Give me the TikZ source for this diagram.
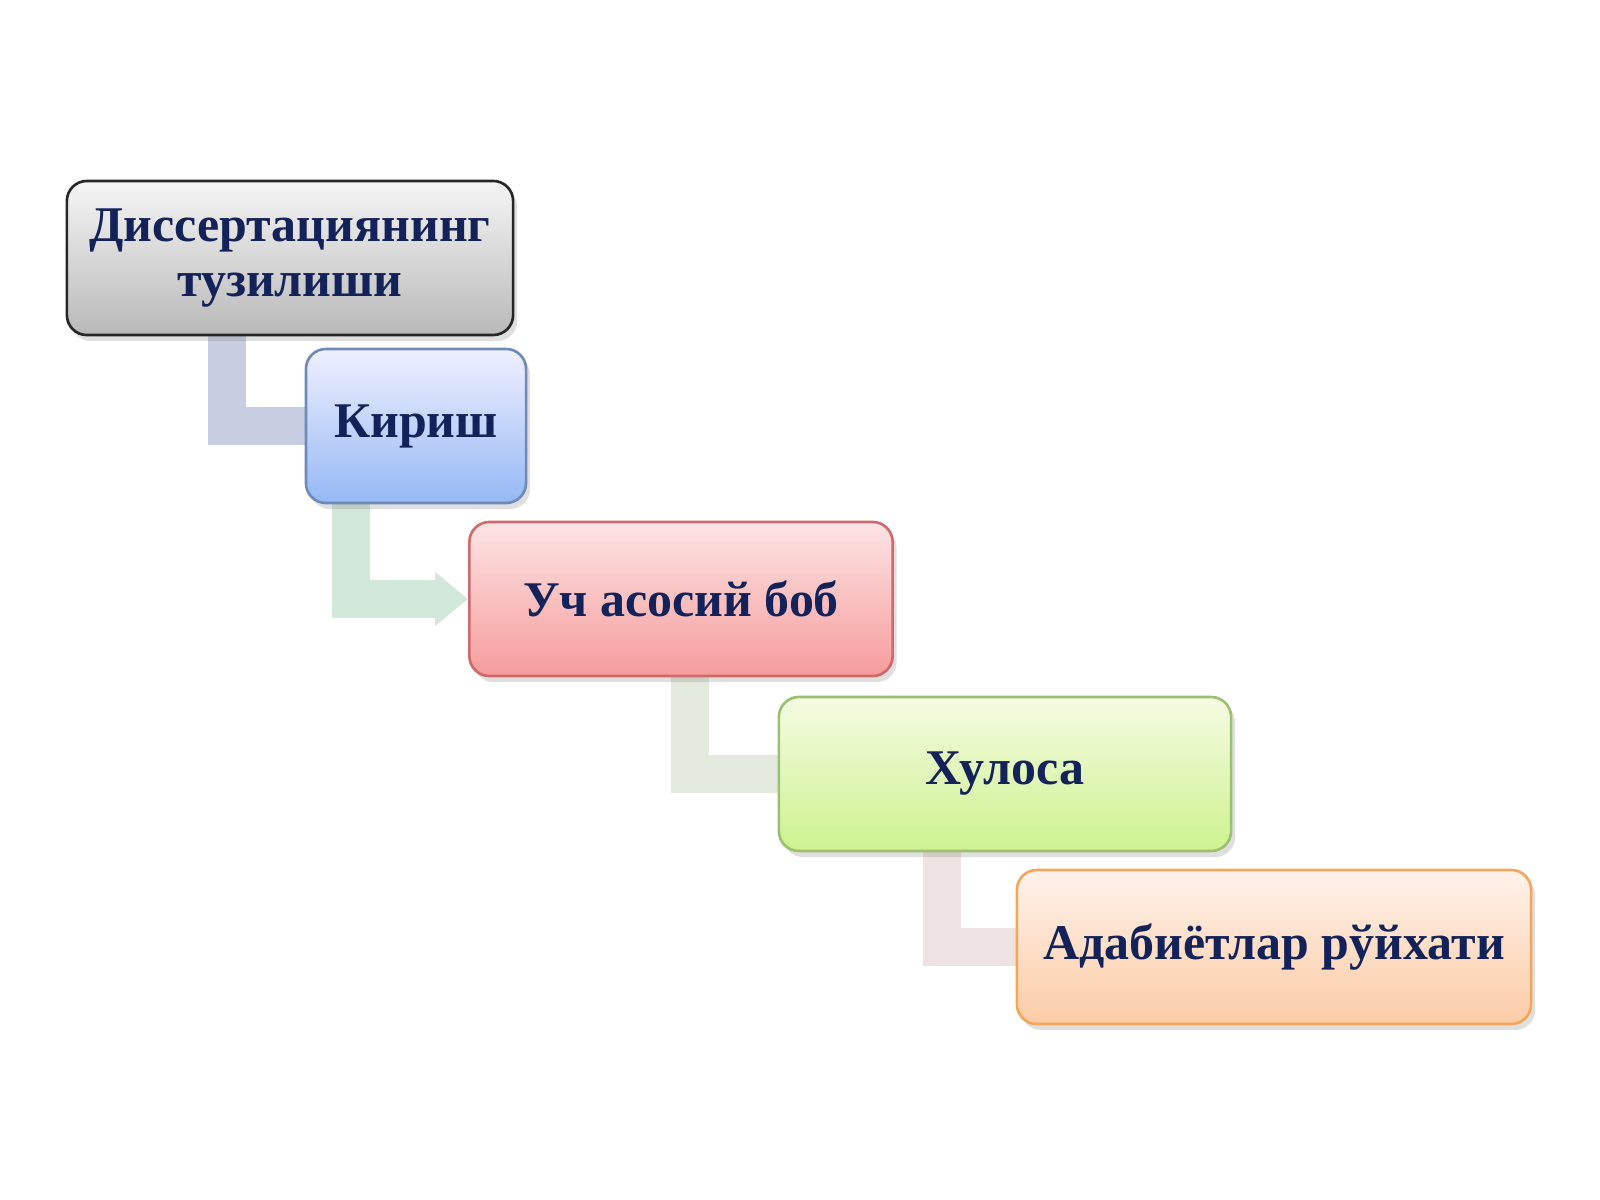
\documentclass[tikz,border=0pt]{standalone}
\usepackage{fontspec}
\setmainfont{Liberation Serif}
\usetikzlibrary{backgrounds,shadows,arrows.meta,calc}
\definecolor{txtnavy}{HTML}{14225A}
\definecolor{linkA}{HTML}{C8CDE2}
\definecolor{linkB}{HTML}{D2E8DA}
\definecolor{linkC}{HTML}{E4E9DD}
\definecolor{linkD}{HTML}{EFE2E2}
\tikzset{
    part/.style = {draw, rectangle, rounded corners=0.2cm, line width=0.75pt,
        minimum height=1.54cm, align=center, text=txtnavy,
        font=\fontsize{14.2}{15.6}\selectfont\bfseries,
        drop shadow={opacity=0.25, shadow xshift=0.04cm, shadow yshift=-0.06cm}},
    link/.style = {line width=0.38cm},
    linkarrow/.style = {link, -{Triangle[length=0.33cm,width=0.52cm]}}
}

\begin{document}
\begin{tikzpicture}[x=0.01cm, y=-0.01cm]
    \useasboundingbox (0,0) rectangle (1600,1200);
    \node [part, minimum width=4.46cm, top color=gray!8, bottom color=gray!55, draw=black!85] (dis) at (290,258) {Диссертациянинг\\тузилиши};
    \node [part, minimum width=2.20cm, top color=blue!6!white, bottom color={rgb,255:red,148;green,184;blue,244}, draw={rgb,255:red,110;green,139;blue,184}] (kir) at (416,426) {Кириш};
    \node [part, minimum width=4.23cm, top color={rgb,255:red,253;green,228;blue,228}, bottom color={rgb,255:red,246;green,156;blue,156}, draw={rgb,255:red,208;green,106;blue,106}] (bob) at (681,599) {Уч асосий боб};
    \node [part, minimum width=4.52cm, top color={rgb,255:red,245;green,251;blue,227}, bottom color={rgb,255:red,205;green,242;blue,142}, draw={rgb,255:red,156;green,192;blue,112}] (xul) at (1005,774) {Хулоса};
    \node [part, minimum width=5.14cm, top color={rgb,255:red,255;green,242;blue,234}, bottom color={rgb,255:red,252;green,203;blue,166}, draw={rgb,255:red,242;green,166;blue,90}] (ada) at (1274,947) {Адабиётлар рўйхати};
    % connectors behind the boxes
    \begin{scope}[on background layer]
        \draw [link, linkA] ([xshift=1.61cm]dis.south west) |- (kir.west);
        \draw [linkarrow, linkB] ([xshift=0.46cm]kir.south west) |- (bob.west);
        \draw [link, linkC] ([xshift=2.22cm]bob.south west) |- (xul.west);
        \draw [link, linkD] ([xshift=1.64cm]xul.south west) |- (ada.west);
    \end{scope}
\end{tikzpicture}
\end{document}
